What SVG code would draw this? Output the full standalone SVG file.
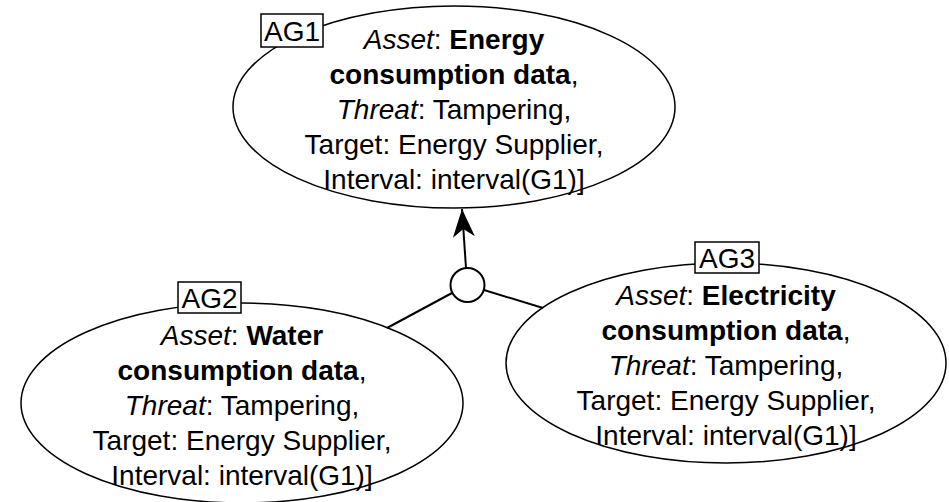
<svg xmlns="http://www.w3.org/2000/svg" width="949" height="502" viewBox="0 0 949 502">
<style>
.el{fill:#fff;stroke:#000;stroke-width:1.5}
.t{font-family:"Liberation Sans",Arial,sans-serif;font-size:28px;fill:#000;text-anchor:middle}
.lb{fill:#fff;stroke:#000;stroke-width:1.5}
.c{stroke:#000;stroke-width:2;fill:none}
.i{font-style:italic}
.b{font-weight:bold}
</style>
<defs>
<marker id="ah" markerWidth="30" markerHeight="24" refX="28" refY="12" orient="auto" markerUnits="userSpaceOnUse">
<path d="M0,1 L28,12 L0,23 L8,12 Z" fill="#000"/>
</marker>
</defs>
<g id="AG1">
<ellipse class="el" cx="454" cy="107" rx="221" ry="101"/>
<rect class="lb" x="261" y="14" width="62" height="33"/>
<text class="t" x="292" y="41">AG1</text>
<text class="t" x="454" y="49"><tspan class="i">Asset</tspan>: <tspan class="b">Energy</tspan></text>
<text class="t" x="454" y="84"><tspan class="b">consumption data</tspan>,</text>
<text class="t" x="454" y="119"><tspan class="i">Threat</tspan>: Tampering,</text>
<text class="t" x="454" y="154">Target: Energy Supplier,</text>
<text class="t" x="454" y="189">Interval: interval(G1)]</text>
</g>
<g id="AG2">
<ellipse class="el" cx="242" cy="403" rx="221" ry="100"/>
<rect class="lb" x="178" y="282" width="63" height="31"/>
<text class="t" x="209.5" y="308">AG2</text>
<text class="t" x="242" y="345"><tspan class="i">Asset</tspan>: <tspan class="b">Water</tspan></text>
<text class="t" x="242" y="380"><tspan class="b">consumption data</tspan>,</text>
<text class="t" x="242" y="415"><tspan class="i">Threat</tspan>: Tampering,</text>
<text class="t" x="242" y="450">Target: Energy Supplier,</text>
<text class="t" x="242" y="485">Interval: interval(G1)]</text>
</g>
<g id="AG3">
<ellipse class="el" cx="726" cy="363" rx="220" ry="100"/>
<rect class="lb" x="695" y="242" width="64" height="31"/>
<text class="t" x="727" y="268">AG3</text>
<text class="t" x="726" y="305"><tspan class="i">Asset</tspan>: <tspan class="b">Electricity</tspan></text>
<text class="t" x="726" y="340"><tspan class="b">consumption data</tspan>,</text>
<text class="t" x="726" y="375"><tspan class="i">Threat</tspan>: Tampering,</text>
<text class="t" x="726" y="410">Target: Energy Supplier,</text>
<text class="t" x="726" y="445">Interval: interval(G1)]</text>
</g>
<g id="connectors">
<line class="c" x1="466" y1="268" x2="462" y2="209" marker-end="url(#ah)"/>
<line class="c" x1="452" y1="293" x2="387" y2="328"/>
<line class="c" x1="484" y1="290" x2="543" y2="308"/>
<circle id="junction" cx="467.5" cy="285" r="17" fill="#fff" stroke="#000" stroke-width="2"/>
</g>
</svg>
